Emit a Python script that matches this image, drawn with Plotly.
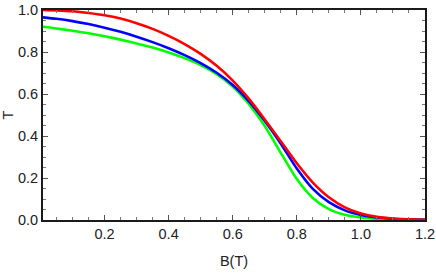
import plotly.graph_objects as go

B = [0.008, 0.05, 0.10, 0.15, 0.20, 0.25, 0.30, 0.35, 0.40, 0.45, 0.50, 0.55,
     0.60, 0.65, 0.70, 0.75, 0.80, 0.85, 0.90, 0.95, 1.00, 1.05, 1.10, 1.15, 1.20]

T_red = [1.000, 0.998, 0.994, 0.986, 0.975, 0.959, 0.937, 0.910, 0.877, 0.838, 0.791, 0.734,
         0.664, 0.578, 0.479, 0.375, 0.270, 0.178, 0.108, 0.060, 0.031, 0.015, 0.007, 0.003, 0.001]
T_blue = [0.965, 0.958, 0.947, 0.933, 0.916, 0.896, 0.873, 0.847, 0.818, 0.785, 0.747, 0.701,
          0.643, 0.566, 0.471, 0.363, 0.245, 0.148, 0.085, 0.046, 0.024, 0.012, 0.006, 0.003, 0.001]
T_green = [0.920, 0.912, 0.901, 0.889, 0.875, 0.859, 0.841, 0.821, 0.798, 0.771, 0.738, 0.695,
           0.636, 0.553, 0.448, 0.320, 0.195, 0.105, 0.052, 0.025, 0.012, 0.006, 0.003, 0.0015, 0.0005]

x_ticks = [0.2, 0.4, 0.6, 0.8, 1.0, 1.2]
y_ticks = [0.0, 0.2, 0.4, 0.6, 0.8, 1.0]

fig = go.Figure()
for ys, col in [(T_green, "#00FF00"), (T_blue, "#0000FF"), (T_red, "#FF0000")]:
    fig.add_trace(go.Scatter(x=B, y=ys, mode="lines",
                             line=dict(color=col, width=2.6, shape="spline", smoothing=0.7),
                             showlegend=False, hoverinfo="skip"))

font = dict(family="Liberation Sans, Arial, sans-serif", size=14.5, color="#222222")

axis_common = dict(showgrid=False, zeroline=False, showline=True, linecolor="#1a1a1a",
                   linewidth=2, mirror="ticks", ticks="inside", ticklen=5, tickwidth=1,
                   tickcolor="#555555", tickfont=font, automargin=False,
                   minor=dict(ticks="inside", ticklen=3, tickwidth=1, tickcolor="#777777", dtick=0.05))

fig.update_xaxes(range=[0.008, 1.2], tickvals=x_ticks, ticktext=["%.1f" % v for v in x_ticks],
                 title=dict(text="B(T)", font=font, standoff=14), **axis_common)
fig.update_yaxes(range=[0, 1], tickvals=y_ticks, ticktext=["%.1f" % v for v in y_ticks],
                 title=dict(text="T", font=font, standoff=10), **axis_common)

fig.update_layout(width=436, height=273, margin=dict(l=43, r=11, t=10, b=53),
                  plot_bgcolor="white", paper_bgcolor="white")
fig.write_html("out.html", config={"displayModeBar": False},
               post_script="document.body.style.margin='0';document.body.style.overflow='hidden';")
